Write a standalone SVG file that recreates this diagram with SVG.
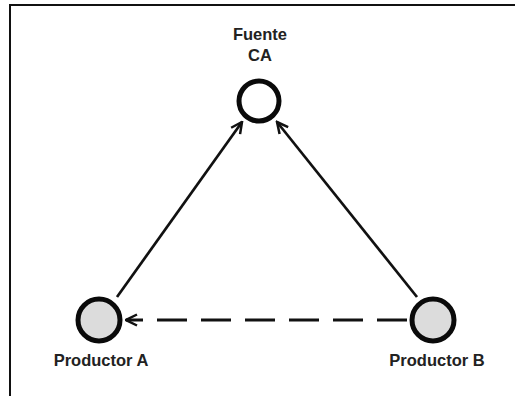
<svg xmlns="http://www.w3.org/2000/svg" width="515" height="396" viewBox="0 0 515 396">
  <style>
    .node { stroke: #0a0a0a; stroke-width: 5; }
    .label { font-family: "Liberation Sans", Arial, sans-serif; font-weight: bold; font-size: 16.5px; fill: #222; text-anchor: middle; }
    .edge { stroke: #111; stroke-width: 2.7; fill: none; marker-end: url(#chev); }
    .dashed { stroke-dasharray: 30 14; stroke-width: 3; }
  </style>
  <defs>
    <marker id="chev" viewBox="0 0 14 14" refX="12.5" refY="7" markerWidth="14" markerHeight="14" markerUnits="userSpaceOnUse" orient="auto">
      <path d="M1.5,1.5 L12.5,7 L1.5,12.5" fill="none" stroke="#111" stroke-width="2.5"/>
    </marker>
  </defs>
  <rect width="515" height="396" fill="#fff"/>
  <!-- frame -->
  <path d="M10,396 V5 H515" fill="none" stroke="#111" stroke-width="2"/>

  <g id="connectors">
    <line class="edge" x1="117" y1="297" x2="242" y2="122"/>
    <line class="edge" x1="417" y1="297" x2="277" y2="122"/>
    <line class="edge dashed" x1="407" y1="320" x2="126" y2="320"/>
  </g>

  <g id="fuente-ca">
    <circle class="node" cx="259" cy="101" r="20" fill="#fff"/>
    <text class="label" x="260" y="40">Fuente</text>
    <text class="label" x="260" y="61">CA</text>
  </g>
  <g id="productor-a">
    <circle class="node" cx="99" cy="320" r="21" fill="#dcdcdc"/>
    <text class="label" x="101" y="366">Productor A</text>
  </g>
  <g id="productor-b">
    <circle class="node" cx="433" cy="320" r="21" fill="#dcdcdc"/>
    <text class="label" x="437" y="366">Productor B</text>
  </g>
</svg>
